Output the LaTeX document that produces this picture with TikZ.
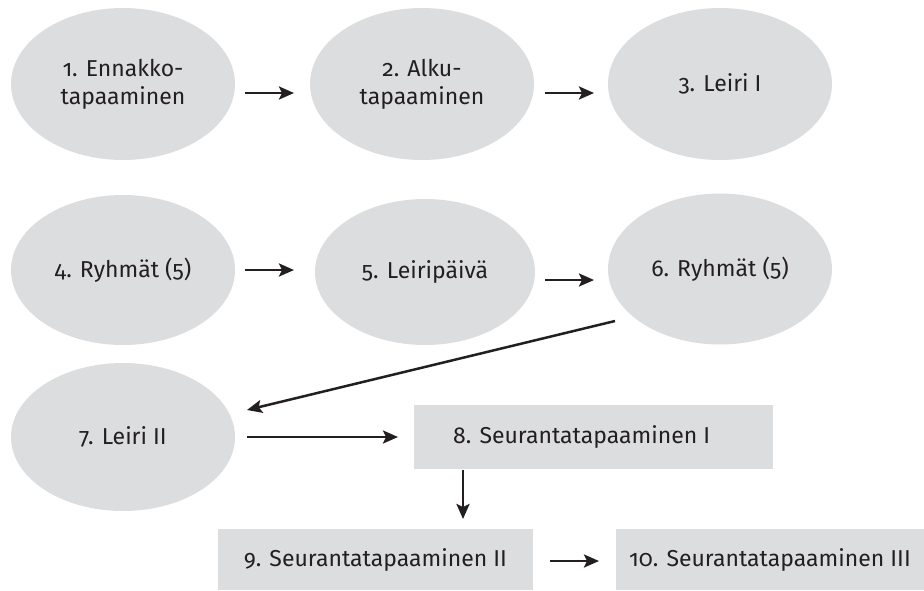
\documentclass[tikz,border=0pt]{standalone}
\usepackage{fontspec}
\setmainfont[Numbers=OldStyle]{Fira Sans}
\usetikzlibrary{shapes.geometric,arrows.meta}
\definecolor{boxgray}{HTML}{DCDDDE}
\definecolor{ink}{HTML}{231F20}
\begin{document}
\begin{tikzpicture}[x=1pt,y=-1pt,
  lbl/.style={text=ink,font=\fontsize{23}{28}\selectfont},
  oval/.style={ellipse,fill=boxgray,minimum width=224pt,minimum height=152pt,inner sep=0pt,align=center,lbl},
  rbox/.style={rectangle,fill=boxgray,inner sep=0pt,lbl},
  arr/.style={draw=ink,line width=2.5pt,-{Stealth[length=15pt,width=13pt,inset=3pt]}}]
\useasboundingbox (0,0) rectangle (924,590);
\node[oval] (n1) at (123,84) {1. Ennakko-\\tapaaminen};
\node[oval] (n2) at (422,84) {2. Alku-\\tapaaminen};
\node[oval] (n3) at (720,84) {3. Leiri I};
\node[oval,minimum height=150pt] (n4) at (123,270) {4. Ryhmät (5)};
\node[oval,minimum width=220pt,minimum height=146pt] (n5) at (425,272) {5. Leiripäivä};
\node[oval,minimum height=151pt] (n6) at (720,269) {6. Ryhmät (5)};
\node[oval,minimum height=148pt] (n7) at (123,437) {7. Leiri II};
\node[rbox,minimum width=359pt,minimum height=64pt] (n8) at (593.5,437) {};
\node[lbl,anchor=west,inner sep=0pt] (t8) at (453,437) {8. Seurantatapaaminen I};
\node[rbox,minimum width=315pt,minimum height=61pt] (n9) at (375.5,559.5) {9. Seurantatapaaminen II};
\node[rbox,minimum width=308pt,minimum height=61pt] (n10) at (770,559.5) {10. Seurantatapaaminen III};
\coordinate (a1s) at (245,93); \coordinate (a1e) at (294,93);
\coordinate (a2s) at (545,93); \coordinate (a2e) at (594,93);
\coordinate (a4s) at (245,270); \coordinate (a4e) at (294,270);
\coordinate (a5s) at (545,280); \coordinate (a5e) at (594,280);
\coordinate (a6s) at (615,321); \coordinate (a6e) at (247,410);
\coordinate (a7s) at (247,437); \coordinate (a7e) at (398,437);
\coordinate (a8s) at (463,470); \coordinate (a8e) at (463,519);
\coordinate (a9s) at (550,561); \coordinate (a9e) at (599,561);
\draw[arr] (a1s) -- (a1e);
\draw[arr] (a2s) -- (a2e);
\draw[arr] (a4s) -- (a4e);
\draw[arr] (a5s) -- (a5e);
\draw[arr] (a6s) -- (a6e);
\draw[arr] (a7s) -- (a7e);
\draw[arr] (a8s) -- (a8e);
\draw[arr] (a9s) -- (a9e);
\end{tikzpicture}
\end{document}
